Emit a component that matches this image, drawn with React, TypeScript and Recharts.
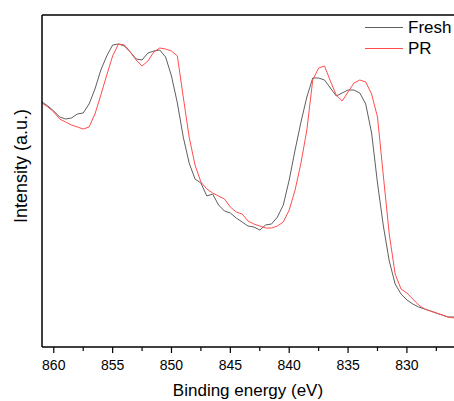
import { LineChart, Line, XAxis, YAxis, Legend, ReferenceLine } from "recharts";

// binding energy grid (eV), high -> low
const energies = [
  861, 860.5, 860, 859.5, 859, 858.5, 858, 857.5, 857, 856.5, 856, 855.5, 855,
  854.5, 854, 853.5, 853, 852.5, 852, 851.5, 851, 850.5, 850, 849.5, 849, 848.5,
  848, 847.5, 847, 846.5, 846, 845.5, 845, 844.5, 844, 843.5, 843, 842.5, 842,
  841.5, 841, 840.5, 840, 839.5, 839, 838.5, 838, 837.5, 837, 836.5, 836, 835.5,
  835, 834.5, 834, 833.5, 833, 832.5, 832, 831.5, 831, 830.5, 830, 829.5, 829,
  828.5, 828, 827.5, 827, 826.5, 826,
];

const fresh = [
  245, 241, 236, 230, 228, 229, 233, 234, 243, 258, 277, 291, 302, 303, 301, 295,
  288, 287, 294, 296, 297, 290, 271, 244, 210, 184, 168, 164, 151, 153, 142, 136,
  134, 129, 125, 121, 120, 117, 122, 123, 130, 142, 167, 197, 225, 250, 269, 269,
  267, 259, 251, 254, 257, 257, 254, 243, 214, 164, 121, 86, 63, 53, 47, 43, 40,
  38, 36, 34, 32, 30, 30,
];

const pr = [
  244, 240, 235, 228, 225, 222, 220, 218, 220, 233, 252, 272, 291, 303, 302, 295,
  287, 281, 286, 295, 299, 298, 296, 291, 250, 210, 182, 165, 158, 154, 151, 148,
  140, 135, 133, 126, 123, 121, 119, 119, 121, 125, 137, 157, 184, 217, 267, 279,
  281, 266, 252, 246, 255, 264, 267, 265, 253, 230, 171, 113, 73, 58, 54, 48, 42,
  38, 36, 34, 32, 30, 29,
];

const xTicks = [860, 857.5, 855, 852.5, 850, 847.5, 845, 842.5, 840, 837.5, 835, 832.5, 830, 827.5];

const FONT = "'Liberation Sans', Arial, sans-serif";
const FRESH_COLOR = "#5f5f5f";
const PR_COLOR = "#ff4d4d";

const data = energies.map((e, i) => ({ energy: e, fresh: fresh[i], pr: pr[i] }));

function EnergyTick(props: any) {
  const { x, y, payload } = props;
  const major = payload.value % 5 === 0;
  return (
    <g>
      <line x1={x} x2={x} y1={y} y2={y + (major ? 6 : 4)} stroke="#000" strokeWidth={1.2} />
      {major && (
        <text x={x} y={y + 23} textAnchor="middle" fontSize={14} fontFamily={FONT} fill="#000">
          {payload.value}
        </text>
      )}
    </g>
  );
}

// y title sits a bit above the plot centre in the original
function YTitle() {
  return (
    <text
      transform="translate(27,166) rotate(-90)"
      textAnchor="middle"
      fontSize={18}
      fontFamily={FONT}
      fill="#000"
    >
      Intensity (a.u.)
    </text>
  );
}

function LegendBox() {
  const rows = [
    { name: "Fresh", color: FRESH_COLOR },
    { name: "PR", color: PR_COLOR },
  ];
  return (
    <div style={{ fontFamily: FONT, fontSize: 17, color: "#000" }}>
      {rows.map((r) => (
        <div key={r.name} style={{ display: "flex", alignItems: "center", height: 21 }}>
          <svg width={44} height={21}>
            <line x1={1} x2={39} y1={10.5} y2={10.5} stroke={r.color} strokeWidth={1} />
          </svg>
          <span>{r.name}</span>
        </div>
      ))}
    </div>
  );
}

export default function App() {
  return (
    <div style={{ position: "absolute", left: 0, top: 0, background: "#fff" }}>
      <LineChart width={454} height={401} data={data} margin={{ top: 15, right: 0, left: 0, bottom: 0 }}>
        <XAxis
          dataKey="energy"
          type="number"
          domain={[826, 861]}
          reversed
          ticks={xTicks}
          interval={0}
          tickLine={false}
          tickSize={0}
          tickMargin={0}
          tick={<EnergyTick />}
          height={54}
          axisLine={{ stroke: "#000", strokeWidth: 1.5 }}
          allowDataOverflow
          label={{
            value: "Binding energy (eV)",
            position: "insideBottom",
            offset: 5,
            fontSize: 17,
            fontFamily: FONT,
            fill: "#000",
          }}
        />
        <YAxis
          type="number"
          domain={[0, 332]}
          width={42}
          tick={false}
          tickLine={false}
          axisLine={{ stroke: "#000", strokeWidth: 1.5 }}
          allowDataOverflow
          label={{ content: <YTitle /> }}
        />
        <ReferenceLine y={332} stroke="#000" strokeWidth={1.5} />
        <Legend
          layout="vertical"
          align="center"
          verticalAlign="middle"
          content={<LegendBox />}
          wrapperStyle={{ position: "absolute", top: 17, left: 364, width: 90 }}
        />
        <Line
          type="linear"
          dataKey="fresh"
          stroke={FRESH_COLOR}
          strokeWidth={1}
          dot={false}
          isAnimationActive={false}
        />
        <Line
          type="linear"
          dataKey="pr"
          stroke={PR_COLOR}
          strokeWidth={1}
          dot={false}
          isAnimationActive={false}
        />
      </LineChart>
    </div>
  );
}
